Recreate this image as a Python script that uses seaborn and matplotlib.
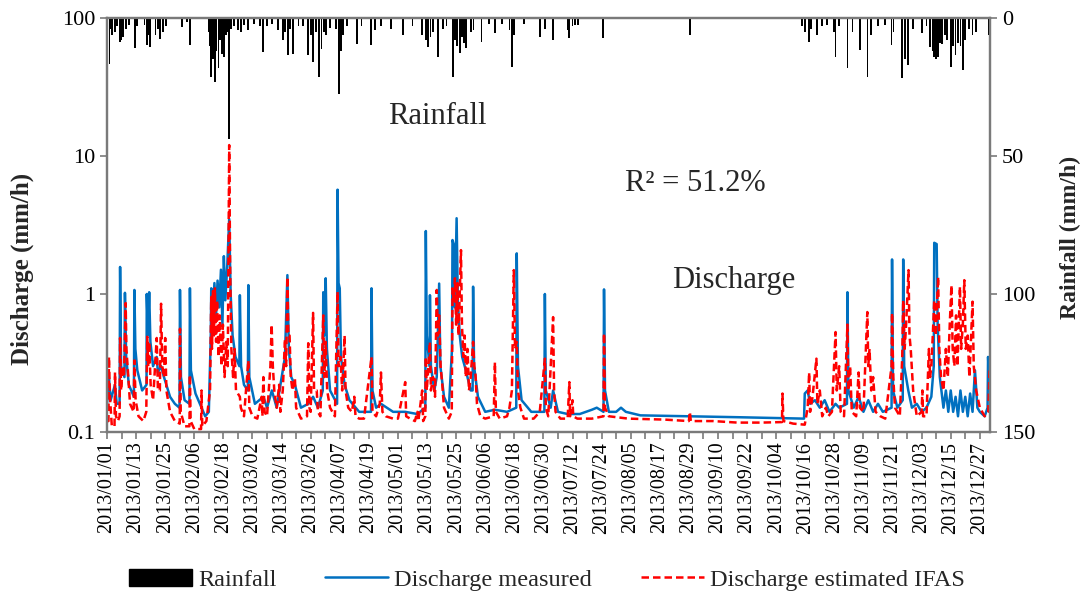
import numpy as np
import pandas as pd
import matplotlib
matplotlib.use("Agg")
import matplotlib.pyplot as plt
import seaborn as sns
from matplotlib.patches import Patch
from matplotlib.lines import Line2D
from matplotlib.ticker import NullLocator, FixedLocator

# ---------------- data (day of year 2013, value) ----------------
tick_labels = ['2013/01/01', '2013/01/13', '2013/01/25', '2013/02/06', '2013/02/18',
               '2013/03/02', '2013/03/14', '2013/03/26', '2013/04/07', '2013/04/19',
               '2013/05/01', '2013/05/13', '2013/05/25', '2013/06/06', '2013/06/18',
               '2013/06/30', '2013/07/12', '2013/07/24', '2013/08/05', '2013/08/17',
               '2013/08/29', '2013/09/10', '2013/09/22', '2013/10/04', '2013/10/16',
               '2013/10/28', '2013/11/09', '2013/11/21', '2013/12/03', '2013/12/15',
               '2013/12/27']

rain_day = [
    1.0, 1.6, 2.2, 3.3, 4.0, 5.4, 6.0, 6.6, 7.7, 9.0,
    11.5, 12.3, 15.5, 16.4, 17.0, 17.7, 20.0, 21.2, 22.0, 23.0,
    24.2, 30.8, 33.0, 34.2, 42.0, 42.6, 43.0, 43.6, 44.5, 45.2,
    46.0, 46.7, 47.3, 48.2, 49.0, 49.6, 50.4, 51.2, 52.5, 54.0,
    55.2, 56.5, 58.0, 60.5, 63.0, 64.5, 66.0, 68.0, 70.5, 72.7,
    73.5, 74.5, 75.6, 76.8, 79.0, 81.0, 83.0, 84.0, 84.8, 86.2,
    87.6, 88.5, 89.5, 90.2, 92.0, 94.5, 95.8, 96.6, 97.4, 99.0,
    103.0, 105.0, 109.0, 110.5, 113.0, 117.0, 122.0, 126.0, 130.0, 131.5,
    132.5, 133.4, 134.5, 136.6, 138.5, 140.0, 142.8, 143.6, 144.5, 145.6,
    146.5, 147.2, 148.0, 150.0, 151.2, 154.5, 157.5, 160.0, 163.0, 166.0,
    166.9, 168.0, 172.0, 178.6, 180.5, 183.8, 190.0, 190.7, 192.0, 193.0,
    194.2, 204.7, 240.4, 286.5, 288.0, 289.5, 290.5, 293.0, 295.0, 297.0,
    300.0, 300.5, 302.0, 305.4, 307.5, 310.5, 313.7, 315.0, 318.0, 321.0,
    323.6, 324.4, 327.9, 329.0, 330.4, 332.5, 336.0, 338.0, 339.4, 340.5,
    341.2, 342.0, 342.6, 343.5, 344.5, 345.5, 346.5, 348.0, 349.0, 350.0,
    351.0, 352.0, 353.0, 354.0, 355.5, 357.0, 358.5, 363.8, 364.2]
rain_mm = [
    16.5, 4.0, 6.0, 5.0, 3.0, 8.7, 8.0, 7.0, 4.0, 2.5,
    10.9, 3.0, 2.5, 9.8, 6.0, 10.5, 6.0, 4.0, 7.6, 5.0,
    3.0, 3.3, 1.5, 9.9, 5.0, 10.0, 21.4, 15.0, 23.2, 12.0,
    18.0, 8.0, 13.0, 14.0, 6.0, 5.0, 44.0, 4.0, 3.0, 4.5,
    5.0, 2.5, 4.5, 2.0, 3.0, 12.3, 3.0, 2.0, 4.5, 8.0,
    5.0, 13.4, 4.0, 13.0, 3.0, 3.0, 13.5, 6.0, 16.0, 5.0,
    21.4, 11.3, 5.0, 6.0, 3.5, 4.0, 27.4, 12.0, 6.0, 3.0,
    9.3, 3.0, 9.9, 4.5, 3.0, 3.9, 6.2, 3.0, 6.0, 8.0,
    10.4, 7.0, 5.0, 14.0, 4.0, 3.0, 21.3, 8.0, 10.0, 12.8,
    7.0, 9.0, 10.8, 5.0, 4.5, 8.6, 2.0, 5.5, 2.0, 4.5,
    17.6, 6.0, 2.0, 6.8, 4.0, 8.0, 4.5, 7.4, 3.0, 2.5,
    2.5, 7.4, 6.2, 3.0, 5.0, 8.6, 4.0, 6.0, 3.0, 2.5,
    5.0, 14.0, 3.0, 18.2, 5.0, 11.6, 21.3, 6.0, 3.0, 2.5,
    9.8, 5.0, 21.8, 15.0, 17.0, 4.0, 5.5, 3.0, 10.4, 12.0,
    14.0, 15.0, 14.0, 9.0, 9.5, 6.0, 8.0, 17.6, 10.0, 13.5,
    9.0, 10.0, 18.8, 8.0, 4.0, 6.0, 5.0, 6.0, 4.0]

meas_day = [
    0.0, 0.8, 1.5, 3.3, 4.0, 5.2, 5.4, 5.8, 7.2, 7.4,
    7.9, 9.0, 11.1, 11.3, 11.7, 12.5, 14.5, 16.3, 16.4, 16.9,
    17.4, 17.9, 19.0, 20.5, 21.0, 22.3, 23.5, 26.0, 28.0, 29.9,
    30.1, 30.5, 32.0, 34.0, 34.2, 34.6, 36.5, 39.0, 40.5, 42.0,
    42.8, 43.0, 43.5, 44.3, 45.0, 45.6, 46.3, 47.0, 47.6, 48.2,
    48.8, 49.6, 50.4, 51.0, 51.8, 53.0, 54.6, 54.8, 55.3, 56.5,
    58.1, 58.3, 58.7, 61.0, 64.5, 66.0, 68.0, 70.0, 73.4, 74.4,
    75.0, 76.0, 77.5, 80.0, 83.0, 85.0, 87.0, 89.0, 89.2, 89.6,
    90.2, 90.7, 92.0, 94.9, 95.1, 95.5, 96.0, 96.5, 98.0, 100.0,
    104.0, 108.9, 109.1, 109.5, 111.0, 113.0, 118.0, 123.0, 128.0, 131.3,
    131.5, 131.9, 133.0, 133.2, 133.6, 135.0, 136.0, 137.0, 137.5, 139.0,
    141.0, 142.3, 142.5, 143.0, 143.5, 144.2, 144.7, 145.5, 146.5, 148.0,
    150.0, 150.8, 151.0, 151.4, 153.0, 156.0, 160.0, 165.0, 168.8, 169.0,
    169.5, 171.0, 175.0, 180.4, 180.6, 181.0, 183.0, 184.0, 186.0, 190.0,
    195.0, 200.0, 202.0, 204.8, 205.0, 205.4, 207.0, 210.0, 212.0, 214.0,
    220.0, 240.0, 260.0, 287.5, 287.8, 289.0, 290.0, 292.0, 294.0, 296.0,
    298.0, 300.5, 302.0, 305.2, 305.4, 305.8, 308.0, 310.0, 312.0, 314.0,
    316.0, 318.0, 320.0, 323.6, 323.8, 324.2, 326.0, 328.2, 328.4, 328.8,
    330.5, 332.0, 334.0, 336.0, 338.0, 340.0, 341.0, 341.2, 342.2, 342.6,
    343.5, 345.0, 346.0, 347.0, 348.0, 349.0, 350.0, 351.0, 352.0, 353.0,
    354.0, 355.0, 356.0, 357.0, 358.0, 359.0, 360.0, 362.0, 363.2, 363.4,
    364.0, 364.5]
meas_q = [
    0.16, 0.25, 0.17, 0.22, 0.16, 0.16, 1.57, 0.30, 0.25, 1.02,
    0.35, 0.22, 0.18, 1.07, 0.40, 0.28, 0.20, 0.22, 1.00, 0.50,
    1.03, 0.45, 0.30, 0.35, 0.27, 0.30, 0.25, 0.18, 0.16, 0.15,
    1.07, 0.25, 0.17, 0.16, 1.10, 0.28, 0.19, 0.15, 0.13, 0.14,
    0.50, 1.10, 0.60, 1.20, 0.70, 1.25, 0.80, 1.50, 0.60, 1.88,
    0.90, 1.60, 3.50, 1.00, 0.50, 0.35, 0.30, 0.98, 0.30, 0.22,
    0.20, 1.16, 0.25, 0.16, 0.18, 0.15, 0.20, 0.15, 0.35, 1.37,
    0.40, 0.25, 0.22, 0.15, 0.16, 0.18, 0.15, 0.20, 1.03, 0.50,
    1.30, 0.40, 0.20, 0.16, 5.70, 1.20, 1.10, 0.35, 0.22, 0.17,
    0.14, 0.14, 1.10, 0.20, 0.15, 0.16, 0.14, 0.14, 0.135, 0.15,
    2.86, 0.50, 0.30, 0.98, 0.30, 0.20, 0.25, 1.19, 0.30, 0.18,
    0.15, 0.40, 2.46, 2.30, 0.80, 3.54, 0.90, 0.50, 0.35, 0.28,
    0.20, 0.20, 1.13, 0.30, 0.18, 0.14, 0.145, 0.14, 0.15, 1.97,
    0.30, 0.17, 0.14, 0.14, 1.00, 0.20, 0.15, 0.20, 0.14, 0.135,
    0.135, 0.145, 0.15, 0.14, 1.08, 0.20, 0.14, 0.14, 0.15, 0.14,
    0.132, 0.13, 0.128, 0.125, 0.19, 0.20, 0.16, 0.17, 0.15, 0.17,
    0.14, 0.16, 0.15, 0.16, 1.03, 0.20, 0.15, 0.18, 0.14, 0.17,
    0.14, 0.16, 0.14, 0.15, 1.78, 0.20, 0.15, 0.17, 1.78, 0.30,
    0.20, 0.15, 0.16, 0.14, 0.15, 0.18, 0.30, 2.35, 2.30, 0.60,
    0.25, 0.15, 0.20, 0.14, 0.20, 0.14, 0.18, 0.13, 0.20, 0.14,
    0.18, 0.13, 0.19, 0.14, 0.28, 0.15, 0.14, 0.13, 0.15, 0.35,
    0.20, 0.22]

est_day = [
    0.0, 0.6, 0.8, 1.2, 2.0, 3.1, 3.3, 3.7, 4.5, 5.2,
    5.4, 5.8, 6.5, 7.0, 7.7, 8.0, 8.5, 9.5, 11.0, 11.3,
    11.8, 13.0, 15.0, 16.2, 16.6, 17.0, 17.4, 18.0, 19.0, 20.5,
    21.0, 21.8, 22.3, 22.8, 23.5, 24.0, 24.5, 26.0, 28.0, 30.0,
    30.1, 30.4, 32.0, 34.0, 34.2, 34.5, 36.0, 38.8, 39.0, 39.3,
    41.0, 42.5, 43.0, 43.3, 43.7, 44.1, 44.5, 45.0, 45.4, 46.0,
    46.5, 47.2, 47.8, 48.5, 49.2, 49.8, 50.4, 50.8, 51.3, 52.0,
    52.6, 53.2, 54.8, 55.2, 56.5, 58.3, 58.7, 60.0, 62.0, 63.8,
    64.1, 64.5, 65.0, 66.0, 67.4, 67.9, 68.4, 69.0, 70.0, 71.0,
    71.5, 72.5, 73.4, 73.9, 74.4, 74.8, 75.3, 75.8, 76.5, 77.5,
    78.0, 80.0, 82.5, 83.0, 83.5, 84.0, 85.0, 85.4, 86.5, 87.0,
    88.0, 89.2, 89.6, 90.2, 90.8, 92.0, 94.0, 95.1, 95.5, 96.3,
    97.0, 98.0, 98.4, 99.5, 101.0, 102.0, 102.5, 104.0, 106.0, 109.1,
    109.5, 111.0, 112.5, 113.0, 113.6, 115.0, 118.0, 120.0, 123.0, 123.4,
    125.0, 127.0, 128.0, 128.4, 130.0, 130.4, 131.3, 131.5, 131.9, 133.2,
    133.6, 134.5, 135.3, 136.0, 136.5, 137.0, 137.6, 138.3, 139.0, 141.0,
    142.2, 142.5, 143.0, 143.5, 144.0, 144.5, 145.0, 146.0, 146.4, 147.0,
    147.5, 148.0, 148.7, 149.3, 150.0, 151.0, 151.5, 152.0, 152.6, 154.0,
    156.0, 159.5, 160.0, 160.4, 162.0, 165.0, 166.0, 167.0, 167.8, 168.3,
    169.0, 169.5, 170.5, 172.0, 176.0, 178.5, 180.6, 181.0, 182.0, 184.0,
    184.4, 185.0, 187.0, 190.0, 190.7, 191.0, 192.0, 192.3, 194.0, 200.0,
    204.8, 205.0, 205.4, 207.0, 215.0, 230.0, 240.0, 240.4, 240.8, 250.0,
    260.0, 270.0, 278.4, 278.6, 279.0, 283.0, 287.8, 289.0, 289.6, 290.0,
    291.0, 292.6, 293.0, 294.0, 295.0, 296.5, 297.5, 299.0, 300.5, 301.0,
    302.0, 302.6, 304.0, 305.4, 305.8, 306.5, 307.2, 309.0, 310.0, 310.5,
    312.0, 313.6, 314.0, 314.5, 315.2, 316.0, 317.0, 319.0, 321.0, 323.6,
    323.8, 324.3, 325.0, 327.0, 328.0, 328.4, 329.0, 329.6, 330.6, 331.0,
    331.5, 332.5, 333.5, 334.0, 336.0, 336.3, 336.6, 338.0, 339.0, 339.5,
    340.0, 340.6, 341.2, 341.8, 342.8, 343.3, 344.0, 345.0, 346.0, 346.8,
    347.6, 348.3, 348.8, 349.5, 350.2, 350.8, 351.8, 352.3, 353.0, 353.6,
    354.2, 355.0, 355.7, 357.0, 357.5, 358.5, 360.0, 362.0, 363.5, 364.0,
    364.5]
est_q = [
    0.12, 0.12, 0.35, 0.18, 0.11, 0.11, 0.27, 0.13, 0.12, 0.13,
    0.48, 0.20, 0.30, 0.25, 0.86, 0.40, 0.30, 0.16, 0.14, 0.33,
    0.17, 0.13, 0.12, 0.14, 0.49, 0.30, 0.45, 0.22, 0.17, 0.48,
    0.20, 0.20, 0.85, 0.30, 0.25, 0.48, 0.20, 0.14, 0.12, 0.115,
    0.56, 0.14, 0.11, 0.11, 0.26, 0.12, 0.105, 0.105, 0.20, 0.11,
    0.12, 0.20, 0.95, 0.40, 1.05, 0.50, 1.10, 0.45, 0.90, 0.35,
    0.70, 0.30, 0.60, 0.25, 0.45, 0.30, 12.0, 1.50, 0.40, 0.25,
    0.40, 0.20, 0.18, 0.15, 0.13, 0.33, 0.15, 0.13, 0.125, 0.18,
    0.13, 0.25, 0.14, 0.13, 0.30, 0.60, 0.30, 0.20, 0.15, 0.22,
    0.14, 0.20, 0.47, 0.30, 1.33, 0.50, 0.50, 0.25, 0.20, 0.245,
    0.15, 0.125, 0.13, 0.44, 0.15, 0.14, 0.73, 0.20, 0.20, 0.14,
    0.13, 0.70, 0.25, 0.45, 0.20, 0.15, 0.13, 1.04, 0.30, 0.35,
    0.20, 0.50, 0.20, 0.15, 0.14, 0.18, 0.13, 0.125, 0.125, 0.35,
    0.14, 0.13, 0.16, 0.27, 0.14, 0.13, 0.125, 0.125, 0.23, 0.13,
    0.125, 0.12, 0.14, 0.12, 0.20, 0.12, 0.13, 0.35, 0.20, 0.45,
    0.20, 0.25, 0.18, 1.07, 0.50, 0.70, 0.30, 0.22, 0.15, 0.125,
    0.14, 1.10, 0.90, 1.30, 0.60, 1.20, 0.50, 2.08, 0.60, 0.35,
    0.50, 0.25, 0.40, 0.20, 0.25, 0.45, 0.30, 0.26, 0.16, 0.13,
    0.125, 0.13, 0.32, 0.14, 0.125, 0.13, 0.15, 0.20, 1.49, 0.40,
    0.45, 0.20, 0.15, 0.125, 0.125, 0.14, 0.34, 0.15, 0.13, 0.68,
    0.20, 0.14, 0.125, 0.125, 0.23, 0.13, 0.17, 0.13, 0.125, 0.125,
    0.13, 0.52, 0.15, 0.13, 0.125, 0.123, 0.12, 0.14, 0.12, 0.12,
    0.117, 0.117, 0.118, 0.19, 0.12, 0.115, 0.113, 0.15, 0.27, 0.14,
    0.18, 0.34, 0.16, 0.20, 0.13, 0.15, 0.13, 0.14, 0.53, 0.20,
    0.30, 0.14, 0.13, 0.60, 0.20, 0.30, 0.14, 0.13, 0.27, 0.15,
    0.14, 0.74, 0.30, 0.40, 0.20, 0.25, 0.14, 0.13, 0.125, 0.30,
    0.73, 0.25, 0.15, 0.13, 0.35, 0.90, 0.40, 0.60, 1.49, 0.50,
    0.40, 0.20, 0.15, 0.13, 0.14, 0.20, 0.13, 0.13, 0.40, 0.25,
    0.30, 0.50, 0.90, 0.50, 1.33, 0.40, 0.25, 0.20, 0.40, 0.25,
    0.60, 1.16, 0.40, 0.30, 0.70, 0.30, 1.13, 0.40, 0.60, 1.26,
    0.40, 0.50, 0.25, 0.88, 0.30, 0.20, 0.15, 0.13, 0.14, 0.28,
    0.22]

# ---------------- styling ----------------
sns.set_theme(style="ticks")
plt.rcParams['font.family'] = ['Liberation Serif', 'DejaVu Serif']
SPINE = '#7a7a7a'
BLUE = '#0070C0'
RED = '#FF0000'

fig = plt.figure(figsize=(10.87, 5.96), dpi=100)
ax = fig.add_axes([107 / 1087, 1 - 432 / 596, 883 / 1087, 414 / 596])
ax2 = ax.twinx()

meas = pd.DataFrame({'day': meas_day, 'q': meas_q})
est = pd.DataFrame({'day': est_day, 'q': est_q})
rain = pd.DataFrame({'day': rain_day, 'mm': rain_mm})

sns.lineplot(data=meas, x='day', y='q', ax=ax, color=BLUE, linewidth=1.8,
             estimator=None, sort=False, legend=False)
sns.lineplot(data=est, x='day', y='q', ax=ax, color=RED, linewidth=1.8,
             estimator=None, sort=False, legend=False)
ax.lines[-1].set_dashes([3.0, 1.6])

ax2.bar(rain['day'], rain['mm'], width=0.75, color='black', linewidth=0)

start = pd.Timestamp('2013-01-01')
major_pos = [(pd.Timestamp(t.replace('/', '-')) - start).days for t in tick_labels]
minor_pos = [p + 6 for p in major_pos[:-1]]

ax.set_yscale('log')
ax.set_ylim(0.1, 100)
ax.set_xlim(0, 364.2)
ax.yaxis.set_major_locator(FixedLocator([0.1, 1, 10, 100]))
ax.yaxis.set_minor_locator(NullLocator())
ax.set_yticklabels(['0.1', '1', '10', '100'])
ax.set_xticks(major_pos)
ax.set_xticks(minor_pos, minor=True)
ax.set_xticklabels(tick_labels, rotation=90)

ax2.set_ylim(150, 0)
ax2.set_yticks([0, 50, 100, 150])
ax2.set_xlim(0, 364.2)

for a in (ax, ax2):
    for s in a.spines.values():
        s.set_color(SPINE)
        s.set_linewidth(1.6)
    a.tick_params(axis='both', which='both', direction='out', color=SPINE,
                  width=1.2, length=5, labelsize=16, labelcolor='black')
ax.tick_params(axis='x', labelsize=14.5, pad=2)

ax.set_xlabel('')
ax.set_ylabel('Discharge (mm/h)', fontsize=18, fontweight='bold')
ax.yaxis.set_label_coords(-0.083, 0.394)
ax2.set_ylabel('Rainfall (mm/h)', fontsize=17, fontweight='bold')
ax2.yaxis.set_label_coords(1.079, 0.47)

ax.text(0.374, 0.761, 'Rainfall', transform=ax.transAxes, ha='center',
        va='center', fontsize=22)
ax.text(0.666, 0.601, 'R² = 51.2%', transform=ax.transAxes, ha='center',
        va='center', fontsize=22)
ax.text(0.710, 0.367, 'Discharge', transform=ax.transAxes, ha='center',
        va='center', fontsize=22)

handles = [Patch(facecolor='black', edgecolor='black'),
           Line2D([], [], color=BLUE, linewidth=1.8),
           Line2D([], [], color=RED, linewidth=1.8, dashes=[3.0, 1.6])]
fig.legend(handles, ['Rainfall', 'Discharge measured', 'Discharge estimated IFAS'],
           loc='center', bbox_to_anchor=(0.503, 0.027), ncol=3, frameon=False,
           fontsize=17.5, handlelength=2.6, handletextpad=0.25, columnspacing=2.0)

fig.savefig('out.png', dpi=100)
